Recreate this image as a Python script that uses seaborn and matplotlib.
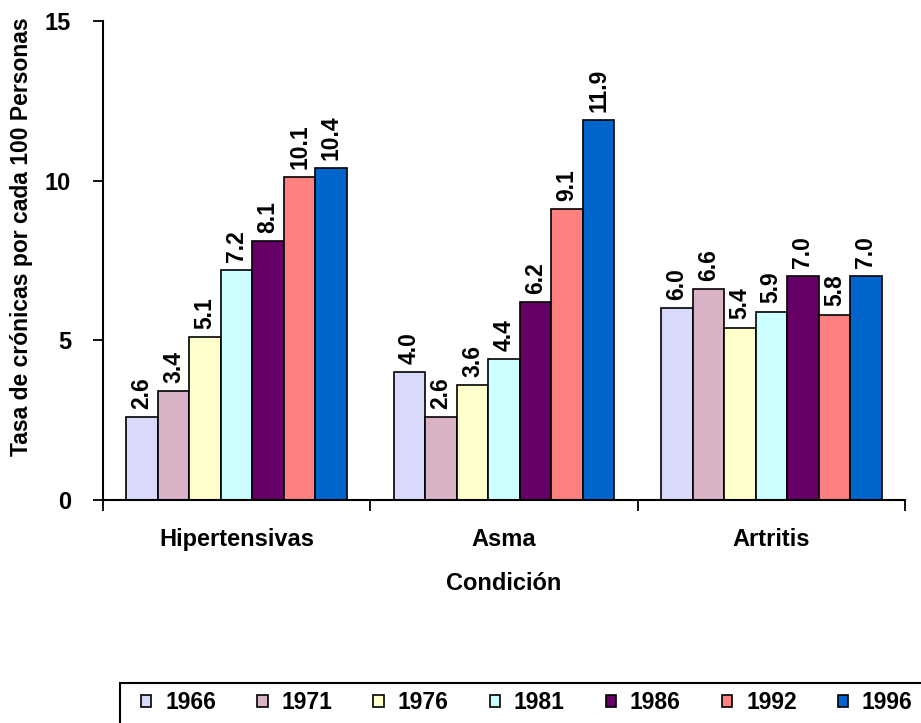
import numpy as np
import pandas as pd
import matplotlib
matplotlib.use("Agg")
import matplotlib.pyplot as plt
from matplotlib.patches import Patch, Rectangle
import seaborn as sns

# Data
condiciones = ["Hipertensivas", "Asma", "Artritis"]
anios = ["1966", "1971", "1976", "1981", "1986", "1992", "1996"]
hipertensivas = [2.6, 3.4, 5.1, 7.2, 8.1, 10.1, 10.4]
asma = [4.0, 2.6, 3.6, 4.4, 6.2, 9.1, 11.9]
artritis = [6.0, 6.6, 5.4, 5.9, 7.0, 5.8, 7.0]
colores = ["#D9D9FB", "#D9B2C6", "#FFFFCC", "#CCFFFF", "#660066", "#FF8080", "#0066CC"]

rows = []
for cond, vals in zip(condiciones, [hipertensivas, asma, artritis]):
    for a, v in zip(anios, vals):
        rows.append({"Condición": cond, "Año": a, "Tasa": v})
df = pd.DataFrame(rows)

sns.set_style("ticks")
plt.rcParams["font.family"] = ["Liberation Sans", "DejaVu Sans"]
plt.rcParams["font.weight"] = "bold"
plt.rcParams["text.color"] = "black"
plt.rcParams["xtick.color"] = "black"
plt.rcParams["ytick.color"] = "black"
plt.rcParams["axes.labelcolor"] = "black"
plt.rcParams["axes.edgecolor"] = "black"

fig = plt.figure(figsize=(9.21, 7.23), dpi=100)
ax = fig.add_axes([103 / 921, 1 - 500 / 723, 802 / 921, 479 / 723])

sns.barplot(data=df, x="Condición", y="Tasa", hue="Año", hue_order=anios,
            palette=colores, saturation=1, edgecolor="black", linewidth=1.2,
            width=0.825, gap=0, legend=False, ax=ax)

for cont in ax.containers:
    ax.bar_label(cont, fmt="%.1f", rotation=90, padding=6,
                 fontsize=16.5, fontweight="bold", color="black")

ax.set_ylim(0, 15)
ax.set_yticks([0, 5, 10, 15])
ax.set_xlim(-0.5, 2.5)
ax.set_xticks([-0.5, 0.5, 1.5, 2.5], minor=True)
ax.tick_params(axis="x", which="major", length=0, pad=20, labelsize=17)
ax.tick_params(axis="x", which="minor", length=8, width=1.3, direction="out")
ax.tick_params(axis="y", length=7, width=1.3, direction="out", labelsize=17, pad=16)
for lab in ax.get_xticklabels() + ax.get_yticklabels():
    lab.set_fontweight("bold")

sns.despine(ax=ax)
ax.spines["left"].set_linewidth(1.5)
ax.spines["bottom"].set_linewidth(1.5)

ax.set_xlabel("Condición", fontsize=17, fontweight="bold")
ax.xaxis.set_label_coords(0.5, (500 - 572) / 479)
ax.set_ylabel("Tasa de crónicas por cada 100 Personas", fontsize=16.5,
              fontweight="bold")
ax.yaxis.set_label_coords((33 - 103) / 802, (500 - 237) / 479)

# legend box runs off the right and bottom edge like in the original
fig.patches.append(Rectangle((120 / 921, -0.05), 0.9, 0.05 + 1 - 683 / 723,
                             transform=fig.transFigure, fill=False,
                             edgecolor="black", linewidth=1.5))
handles = [Patch(facecolor=c, edgecolor="black", linewidth=1.2) for c in colores]
leg = fig.legend(handles, anios, loc="upper left", ncol=7,
                 bbox_to_anchor=(141 / 921, 1 - 691 / 723),
                 frameon=False,
                 handlelength=0.45, handleheight=0.45, handletextpad=0.6,
                 columnspacing=1.8, borderpad=0, borderaxespad=0,
                 prop={"size": 16.5, "weight": "bold"})

fig.savefig("out.png", dpi=100)
